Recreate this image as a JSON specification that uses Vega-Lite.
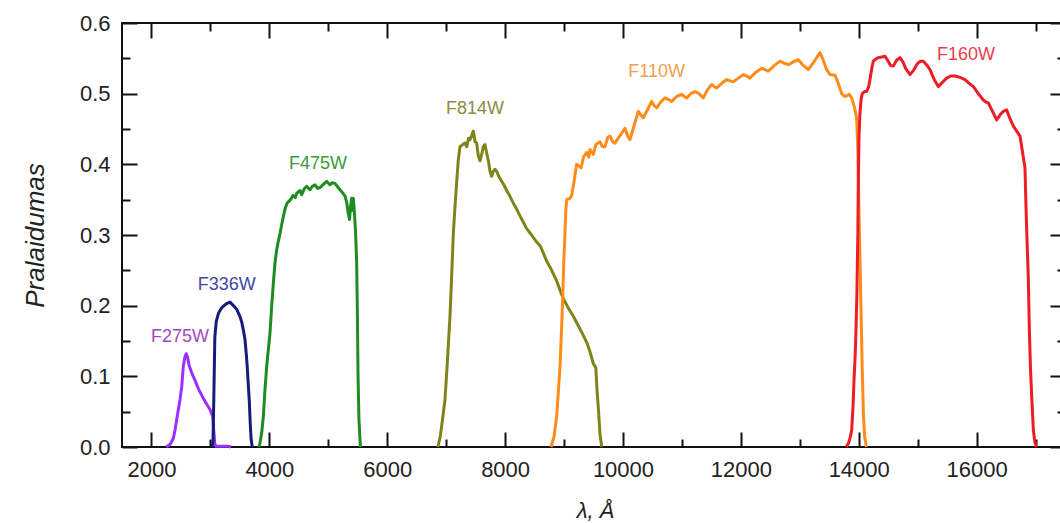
{
  "$schema": "https://vega.github.io/schema/vega-lite/v6.json",
  "width": 943,
  "height": 424,
  "autosize": {"type": "none"},
  "padding": {"left": 122, "top": 23, "right": 0, "bottom": 76},
  "background": "white",
  "config": {
    "view": {"stroke": "#111", "strokeWidth": 2},
    "font": "Liberation Sans",
    "axis": {"labelColor": "#222", "labelFontSize": 22, "labelFont": "Liberation Sans", "tickColor": "#111", "tickWidth": 2, "domain": false, "grid": false, "labelOverlap": false, "labelFlush": false, "titleColor": "#222", "titleFont": "Liberation Sans", "titleFontWeight": "normal", "titleFontStyle": "italic"}
  },
  "datasets": {
    "curves": [
      {"filter":"F275W","wl":2250,"t":0},{"filter":"F275W","wl":2320,"t":0.004},{"filter":"F275W","wl":2370,"t":0.012},{"filter":"F275W","wl":2400,"t":0.024},{"filter":"F275W","wl":2440,"t":0.045},{"filter":"F275W","wl":2484,"t":0.067},{"filter":"F275W","wl":2513,"t":0.085},{"filter":"F275W","wl":2540,"t":0.114},{"filter":"F275W","wl":2569,"t":0.128},{"filter":"F275W","wl":2590,"t":0.132},{"filter":"F275W","wl":2610,"t":0.128},{"filter":"F275W","wl":2640,"t":0.115},{"filter":"F275W","wl":2683,"t":0.105},{"filter":"F275W","wl":2740,"t":0.094},{"filter":"F275W","wl":2800,"t":0.082},{"filter":"F275W","wl":2860,"t":0.072},{"filter":"F275W","wl":2920,"t":0.063},{"filter":"F275W","wl":2993,"t":0.053},{"filter":"F275W","wl":3040,"t":0.043},{"filter":"F275W","wl":3060,"t":0.02},{"filter":"F275W","wl":3075,"t":0.004},{"filter":"F275W","wl":3100,"t":0.001},{"filter":"F275W","wl":3300,"t":0.001},{"filter":"F275W","wl":3350,"t":0},
      {"filter":"F336W","wl":3030,"t":0},{"filter":"F336W","wl":3045,"t":0.01},{"filter":"F336W","wl":3060,"t":0.08},{"filter":"F336W","wl":3075,"t":0.155},{"filter":"F336W","wl":3100,"t":0.178},{"filter":"F336W","wl":3140,"t":0.19},{"filter":"F336W","wl":3200,"t":0.198},{"filter":"F336W","wl":3276,"t":0.203},{"filter":"F336W","wl":3332,"t":0.205},{"filter":"F336W","wl":3390,"t":0.2},{"filter":"F336W","wl":3446,"t":0.195},{"filter":"F336W","wl":3500,"t":0.185},{"filter":"F336W","wl":3531,"t":0.177},{"filter":"F336W","wl":3560,"t":0.165},{"filter":"F336W","wl":3587,"t":0.152},{"filter":"F336W","wl":3610,"t":0.13},{"filter":"F336W","wl":3626,"t":0.112},{"filter":"F336W","wl":3645,"t":0.085},{"filter":"F336W","wl":3660,"t":0.065},{"filter":"F336W","wl":3675,"t":0.035},{"filter":"F336W","wl":3690,"t":0.012},{"filter":"F336W","wl":3710,"t":0},
      {"filter":"F475W","wl":3830,"t":0},{"filter":"F475W","wl":3870,"t":0.02},{"filter":"F475W","wl":3898,"t":0.043},{"filter":"F475W","wl":3925,"t":0.08},{"filter":"F475W","wl":3955,"t":0.114},{"filter":"F475W","wl":3985,"t":0.14},{"filter":"F475W","wl":4011,"t":0.161},{"filter":"F475W","wl":4040,"t":0.2},{"filter":"F475W","wl":4068,"t":0.232},{"filter":"F475W","wl":4095,"t":0.26},{"filter":"F475W","wl":4124,"t":0.279},{"filter":"F475W","wl":4150,"t":0.29},{"filter":"F475W","wl":4181,"t":0.302},{"filter":"F475W","wl":4210,"t":0.315},{"filter":"F475W","wl":4237,"t":0.326},{"filter":"F475W","wl":4270,"t":0.338},{"filter":"F475W","wl":4300,"t":0.345},{"filter":"F475W","wl":4322,"t":0.347},{"filter":"F475W","wl":4360,"t":0.35},{"filter":"F475W","wl":4400,"t":0.356},{"filter":"F475W","wl":4440,"t":0.353},{"filter":"F475W","wl":4464,"t":0.359},{"filter":"F475W","wl":4520,"t":0.363},{"filter":"F475W","wl":4549,"t":0.357},{"filter":"F475W","wl":4590,"t":0.365},{"filter":"F475W","wl":4633,"t":0.369},{"filter":"F475W","wl":4690,"t":0.364},{"filter":"F475W","wl":4730,"t":0.369},{"filter":"F475W","wl":4775,"t":0.371},{"filter":"F475W","wl":4820,"t":0.366},{"filter":"F475W","wl":4860,"t":0.367},{"filter":"F475W","wl":4920,"t":0.372},{"filter":"F475W","wl":4973,"t":0.376},{"filter":"F475W","wl":5029,"t":0.371},{"filter":"F475W","wl":5070,"t":0.374},{"filter":"F475W","wl":5114,"t":0.373},{"filter":"F475W","wl":5160,"t":0.368},{"filter":"F475W","wl":5199,"t":0.364},{"filter":"F475W","wl":5240,"t":0.36},{"filter":"F475W","wl":5284,"t":0.355},{"filter":"F475W","wl":5315,"t":0.345},{"filter":"F475W","wl":5340,"t":0.33},{"filter":"F475W","wl":5360,"t":0.322},{"filter":"F475W","wl":5378,"t":0.34},{"filter":"F475W","wl":5397,"t":0.352},{"filter":"F475W","wl":5412,"t":0.335},{"filter":"F475W","wl":5425,"t":0.352},{"filter":"F475W","wl":5445,"t":0.33},{"filter":"F475W","wl":5465,"t":0.3},{"filter":"F475W","wl":5482,"t":0.26},{"filter":"F475W","wl":5495,"t":0.18},{"filter":"F475W","wl":5505,"t":0.1},{"filter":"F475W","wl":5520,"t":0.04},{"filter":"F475W","wl":5545,"t":0},
      {"filter":"F814W","wl":6860,"t":0},{"filter":"F814W","wl":6900,"t":0.015},{"filter":"F814W","wl":6940,"t":0.04},{"filter":"F814W","wl":6980,"t":0.067},{"filter":"F814W","wl":7020,"t":0.12},{"filter":"F814W","wl":7065,"t":0.185},{"filter":"F814W","wl":7095,"t":0.245},{"filter":"F814W","wl":7122,"t":0.303},{"filter":"F814W","wl":7150,"t":0.34},{"filter":"F814W","wl":7178,"t":0.374},{"filter":"F814W","wl":7205,"t":0.405},{"filter":"F814W","wl":7235,"t":0.425},{"filter":"F814W","wl":7280,"t":0.428},{"filter":"F814W","wl":7320,"t":0.43},{"filter":"F814W","wl":7350,"t":0.425},{"filter":"F814W","wl":7380,"t":0.437},{"filter":"F814W","wl":7405,"t":0.435},{"filter":"F814W","wl":7430,"t":0.44},{"filter":"F814W","wl":7461,"t":0.447},{"filter":"F814W","wl":7490,"t":0.432},{"filter":"F814W","wl":7518,"t":0.43},{"filter":"F814W","wl":7545,"t":0.412},{"filter":"F814W","wl":7574,"t":0.405},{"filter":"F814W","wl":7603,"t":0.414},{"filter":"F814W","wl":7630,"t":0.425},{"filter":"F814W","wl":7659,"t":0.428},{"filter":"F814W","wl":7690,"t":0.415},{"filter":"F814W","wl":7716,"t":0.405},{"filter":"F814W","wl":7745,"t":0.39},{"filter":"F814W","wl":7772,"t":0.383},{"filter":"F814W","wl":7800,"t":0.39},{"filter":"F814W","wl":7830,"t":0.393},{"filter":"F814W","wl":7857,"t":0.39},{"filter":"F814W","wl":7900,"t":0.382},{"filter":"F814W","wl":7942,"t":0.376},{"filter":"F814W","wl":7985,"t":0.37},{"filter":"F814W","wl":8027,"t":0.363},{"filter":"F814W","wl":8080,"t":0.355},{"filter":"F814W","wl":8140,"t":0.345},{"filter":"F814W","wl":8200,"t":0.336},{"filter":"F814W","wl":8253,"t":0.327},{"filter":"F814W","wl":8310,"t":0.318},{"filter":"F814W","wl":8366,"t":0.309},{"filter":"F814W","wl":8450,"t":0.3},{"filter":"F814W","wl":8536,"t":0.29},{"filter":"F814W","wl":8600,"t":0.284},{"filter":"F814W","wl":8706,"t":0.263},{"filter":"F814W","wl":8790,"t":0.25},{"filter":"F814W","wl":8875,"t":0.235},{"filter":"F814W","wl":8932,"t":0.222},{"filter":"F814W","wl":8988,"t":0.21},{"filter":"F814W","wl":9070,"t":0.197},{"filter":"F814W","wl":9158,"t":0.185},{"filter":"F814W","wl":9240,"t":0.172},{"filter":"F814W","wl":9327,"t":0.158},{"filter":"F814W","wl":9390,"t":0.147},{"filter":"F814W","wl":9440,"t":0.135},{"filter":"F814W","wl":9497,"t":0.118},{"filter":"F814W","wl":9540,"t":0.112},{"filter":"F814W","wl":9560,"t":0.08},{"filter":"F814W","wl":9582,"t":0.055},{"filter":"F814W","wl":9610,"t":0.018},{"filter":"F814W","wl":9640,"t":0},
      {"filter":"F110W","wl":8780,"t":0},{"filter":"F110W","wl":8830,"t":0.015},{"filter":"F110W","wl":8875,"t":0.043},{"filter":"F110W","wl":8905,"t":0.08},{"filter":"F110W","wl":8932,"t":0.114},{"filter":"F110W","wl":8955,"t":0.16},{"filter":"F110W","wl":8977,"t":0.208},{"filter":"F110W","wl":8995,"t":0.26},{"filter":"F110W","wl":9016,"t":0.303},{"filter":"F110W","wl":9030,"t":0.335},{"filter":"F110W","wl":9045,"t":0.35},{"filter":"F110W","wl":9100,"t":0.352},{"filter":"F110W","wl":9130,"t":0.356},{"filter":"F110W","wl":9160,"t":0.37},{"filter":"F110W","wl":9186,"t":0.385},{"filter":"F110W","wl":9214,"t":0.4},{"filter":"F110W","wl":9250,"t":0.398},{"filter":"F110W","wl":9290,"t":0.395},{"filter":"F110W","wl":9330,"t":0.41},{"filter":"F110W","wl":9384,"t":0.417},{"filter":"F110W","wl":9420,"t":0.41},{"filter":"F110W","wl":9441,"t":0.421},{"filter":"F110W","wl":9497,"t":0.414},{"filter":"F110W","wl":9540,"t":0.428},{"filter":"F110W","wl":9610,"t":0.432},{"filter":"F110W","wl":9650,"t":0.425},{"filter":"F110W","wl":9695,"t":0.425},{"filter":"F110W","wl":9740,"t":0.438},{"filter":"F110W","wl":9780,"t":0.44},{"filter":"F110W","wl":9825,"t":0.432},{"filter":"F110W","wl":9865,"t":0.43},{"filter":"F110W","wl":9920,"t":0.437},{"filter":"F110W","wl":9978,"t":0.444},{"filter":"F110W","wl":10034,"t":0.451},{"filter":"F110W","wl":10080,"t":0.44},{"filter":"F110W","wl":10119,"t":0.435},{"filter":"F110W","wl":10190,"t":0.455},{"filter":"F110W","wl":10260,"t":0.475},{"filter":"F110W","wl":10300,"t":0.47},{"filter":"F110W","wl":10345,"t":0.466},{"filter":"F110W","wl":10420,"t":0.478},{"filter":"F110W","wl":10487,"t":0.489},{"filter":"F110W","wl":10530,"t":0.483},{"filter":"F110W","wl":10572,"t":0.48},{"filter":"F110W","wl":10640,"t":0.488},{"filter":"F110W","wl":10713,"t":0.494},{"filter":"F110W","wl":10770,"t":0.492},{"filter":"F110W","wl":10826,"t":0.489},{"filter":"F110W","wl":10910,"t":0.496},{"filter":"F110W","wl":10996,"t":0.499},{"filter":"F110W","wl":11040,"t":0.496},{"filter":"F110W","wl":11081,"t":0.494},{"filter":"F110W","wl":11150,"t":0.5},{"filter":"F110W","wl":11222,"t":0.503},{"filter":"F110W","wl":11290,"t":0.5},{"filter":"F110W","wl":11363,"t":0.494},{"filter":"F110W","wl":11430,"t":0.505},{"filter":"F110W","wl":11505,"t":0.513},{"filter":"F110W","wl":11550,"t":0.51},{"filter":"F110W","wl":11590,"t":0.508},{"filter":"F110W","wl":11680,"t":0.515},{"filter":"F110W","wl":11760,"t":0.52},{"filter":"F110W","wl":11820,"t":0.518},{"filter":"F110W","wl":11872,"t":0.517},{"filter":"F110W","wl":11960,"t":0.522},{"filter":"F110W","wl":12042,"t":0.527},{"filter":"F110W","wl":12100,"t":0.525},{"filter":"F110W","wl":12155,"t":0.522},{"filter":"F110W","wl":12250,"t":0.53},{"filter":"F110W","wl":12354,"t":0.536},{"filter":"F110W","wl":12410,"t":0.534},{"filter":"F110W","wl":12467,"t":0.532},{"filter":"F110W","wl":12570,"t":0.54},{"filter":"F110W","wl":12665,"t":0.546},{"filter":"F110W","wl":12740,"t":0.543},{"filter":"F110W","wl":12806,"t":0.541},{"filter":"F110W","wl":12890,"t":0.545},{"filter":"F110W","wl":12975,"t":0.548},{"filter":"F110W","wl":13060,"t":0.54},{"filter":"F110W","wl":13145,"t":0.534},{"filter":"F110W","wl":13240,"t":0.545},{"filter":"F110W","wl":13343,"t":0.558},{"filter":"F110W","wl":13400,"t":0.547},{"filter":"F110W","wl":13456,"t":0.534},{"filter":"F110W","wl":13513,"t":0.527},{"filter":"F110W","wl":13598,"t":0.526},{"filter":"F110W","wl":13650,"t":0.515},{"filter":"F110W","wl":13711,"t":0.5},{"filter":"F110W","wl":13760,"t":0.496},{"filter":"F110W","wl":13796,"t":0.497},{"filter":"F110W","wl":13840,"t":0.499},{"filter":"F110W","wl":13881,"t":0.494},{"filter":"F110W","wl":13930,"t":0.48},{"filter":"F110W","wl":13965,"t":0.465},{"filter":"F110W","wl":13985,"t":0.42},{"filter":"F110W","wl":14000,"t":0.35},{"filter":"F110W","wl":14020,"t":0.27},{"filter":"F110W","wl":14040,"t":0.19},{"filter":"F110W","wl":14060,"t":0.11},{"filter":"F110W","wl":14080,"t":0.045},{"filter":"F110W","wl":14100,"t":0.015},{"filter":"F110W","wl":14130,"t":0},
      {"filter":"F160W","wl":13790,"t":0},{"filter":"F160W","wl":13830,"t":0.006},{"filter":"F160W","wl":13860,"t":0.015},{"filter":"F160W","wl":13881,"t":0.024},{"filter":"F160W","wl":13905,"t":0.06},{"filter":"F160W","wl":13920,"t":0.095},{"filter":"F160W","wl":13940,"t":0.13},{"filter":"F160W","wl":13954,"t":0.166},{"filter":"F160W","wl":13970,"t":0.22},{"filter":"F160W","wl":13977,"t":0.26},{"filter":"F160W","wl":13985,"t":0.3},{"filter":"F160W","wl":13994,"t":0.38},{"filter":"F160W","wl":14005,"t":0.44},{"filter":"F160W","wl":14020,"t":0.47},{"filter":"F160W","wl":14040,"t":0.492},{"filter":"F160W","wl":14060,"t":0.5},{"filter":"F160W","wl":14100,"t":0.503},{"filter":"F160W","wl":14135,"t":0.503},{"filter":"F160W","wl":14170,"t":0.51},{"filter":"F160W","wl":14191,"t":0.52},{"filter":"F160W","wl":14220,"t":0.535},{"filter":"F160W","wl":14248,"t":0.546},{"filter":"F160W","wl":14290,"t":0.549},{"filter":"F160W","wl":14333,"t":0.551},{"filter":"F160W","wl":14390,"t":0.552},{"filter":"F160W","wl":14446,"t":0.553},{"filter":"F160W","wl":14500,"t":0.546},{"filter":"F160W","wl":14540,"t":0.54},{"filter":"F160W","wl":14587,"t":0.539},{"filter":"F160W","wl":14640,"t":0.547},{"filter":"F160W","wl":14701,"t":0.551},{"filter":"F160W","wl":14750,"t":0.545},{"filter":"F160W","wl":14800,"t":0.535},{"filter":"F160W","wl":14870,"t":0.527},{"filter":"F160W","wl":14930,"t":0.533},{"filter":"F160W","wl":15000,"t":0.543},{"filter":"F160W","wl":15050,"t":0.546},{"filter":"F160W","wl":15096,"t":0.546},{"filter":"F160W","wl":15150,"t":0.541},{"filter":"F160W","wl":15209,"t":0.534},{"filter":"F160W","wl":15280,"t":0.52},{"filter":"F160W","wl":15350,"t":0.51},{"filter":"F160W","wl":15420,"t":0.516},{"filter":"F160W","wl":15492,"t":0.522},{"filter":"F160W","wl":15560,"t":0.525},{"filter":"F160W","wl":15633,"t":0.525},{"filter":"F160W","wl":15720,"t":0.523},{"filter":"F160W","wl":15803,"t":0.52},{"filter":"F160W","wl":15870,"t":0.515},{"filter":"F160W","wl":15945,"t":0.51},{"filter":"F160W","wl":16030,"t":0.5},{"filter":"F160W","wl":16114,"t":0.491},{"filter":"F160W","wl":16160,"t":0.488},{"filter":"F160W","wl":16199,"t":0.487},{"filter":"F160W","wl":16270,"t":0.475},{"filter":"F160W","wl":16341,"t":0.463},{"filter":"F160W","wl":16400,"t":0.47},{"filter":"F160W","wl":16454,"t":0.475},{"filter":"F160W","wl":16511,"t":0.477},{"filter":"F160W","wl":16560,"t":0.466},{"filter":"F160W","wl":16624,"t":0.454},{"filter":"F160W","wl":16680,"t":0.447},{"filter":"F160W","wl":16737,"t":0.44},{"filter":"F160W","wl":16765,"t":0.425},{"filter":"F160W","wl":16793,"t":0.41},{"filter":"F160W","wl":16821,"t":0.395},{"filter":"F160W","wl":16835,"t":0.35},{"filter":"F160W","wl":16850,"t":0.307},{"filter":"F160W","wl":16878,"t":0.237},{"filter":"F160W","wl":16895,"t":0.166},{"filter":"F160W","wl":16915,"t":0.11},{"filter":"F160W","wl":16935,"t":0.071},{"filter":"F160W","wl":16963,"t":0.024},{"filter":"F160W","wl":16990,"t":0.006},{"filter":"F160W","wl":17020,"t":0}
    ],
    "labels": [
      {"filter":"F275W","wl":2484,"t":0.156},
      {"filter":"F336W","wl":3276,"t":0.229},
      {"filter":"F475W","wl":4826,"t":0.401},
      {"filter":"F814W","wl":7490,"t":0.479},
      {"filter":"F110W","wl":10572,"t":0.530},
      {"filter":"F160W","wl":15820,"t":0.555}
    ]
  },
  "resolve": {"axis": {"x": "independent", "y": "independent"}, "scale": {"color": "independent"}},
  "layer": [
    {
      "data": {"name": "curves"},
      "mark": {"type": "line", "strokeWidth": 3, "interpolate": "linear", "strokeJoin": "round"},
      "encoding": {
        "x": {"field": "wl", "type": "quantitative",
          "scale": {"domain": [1500, 17500], "nice": false, "zero": false},
          "axis": {"orient": "bottom", "values": [2000,3000,4000,5000,6000,7000,8000,9000,10000,11000,12000,13000,14000,15000,16000,17000],
            "labelExpr": "datum.value % 2000 === 0 ? format(datum.value, 'd') : ''",
            "tickSize": {"condition": {"test": "datum.value % 2000 === 0", "value": -15}, "value": -8},
            "labelPadding": 27,
            "title": "λ, Å", "titleFontSize": 22, "titleX": 473, "titleY": 63, "titleBaseline": "middle", "titleAlign": "center"}},
        "y": {"field": "t", "type": "quantitative",
          "scale": {"domain": [0, 0.6], "nice": false, "zero": false},
          "axis": {"orient": "left", "values": [0,0.05,0.1,0.15,0.2,0.25,0.3,0.35,0.4,0.45,0.5,0.55,0.6],
            "labelExpr": "round(datum.value*100) % 10 === 0 ? format(datum.value, '.1f') : ''",
            "tickSize": {"condition": {"test": "round(datum.value*100) % 10 === 0", "value": -15}, "value": -8},
            "labelPadding": 27,
            "title": "Pralaidumas", "titleFontSize": 26, "titleX": -87, "titleY": 212, "titleAngle": -90, "titleBaseline": "middle", "titleAlign": "center"}},
        "color": {"field": "filter", "type": "nominal",
          "scale": {"domain": ["F275W","F336W","F475W","F814W","F110W","F160W"], "range": ["#9a30ff","#151c7c","#1f8c1f","#7f8418","#ff8c1a","#ee1c24"]},
          "legend": null}
      }
    },
    {
      "data": {"name": "labels"},
      "mark": {"type": "text", "fontSize": 18, "font": "Liberation Sans", "align": "center", "baseline": "middle"},
      "encoding": {
        "x": {"field": "wl", "type": "quantitative",
          "scale": {"domain": [1500, 17500], "nice": false, "zero": false},
          "axis": {"orient": "top", "values": [2000,3000,4000,5000,6000,7000,8000,9000,10000,11000,12000,13000,14000,15000,16000,17000],
            "labels": false, "title": null,
            "tickSize": {"condition": {"test": "datum.value % 2000 === 0", "value": -15}, "value": -8}}},
        "y": {"field": "t", "type": "quantitative",
          "scale": {"domain": [0, 0.6], "nice": false, "zero": false},
          "axis": {"orient": "right", "values": [0,0.05,0.1,0.15,0.2,0.25,0.3,0.35,0.4,0.45,0.5,0.55,0.6],
            "labels": false, "title": null,
            "tickSize": {"condition": {"test": "round(datum.value*100) % 10 === 0", "value": -15}, "value": -8}}},
        "text": {"field": "filter", "type": "nominal"},
        "color": {"field": "filter", "type": "nominal",
          "scale": {"domain": ["F275W","F336W","F475W","F814W","F110W","F160W"], "range": ["#a048c0","#4448a0","#3a9a3a","#8c8c3c","#f0a050","#e84048"]},
          "legend": null}
      }
    }
  ]
}
